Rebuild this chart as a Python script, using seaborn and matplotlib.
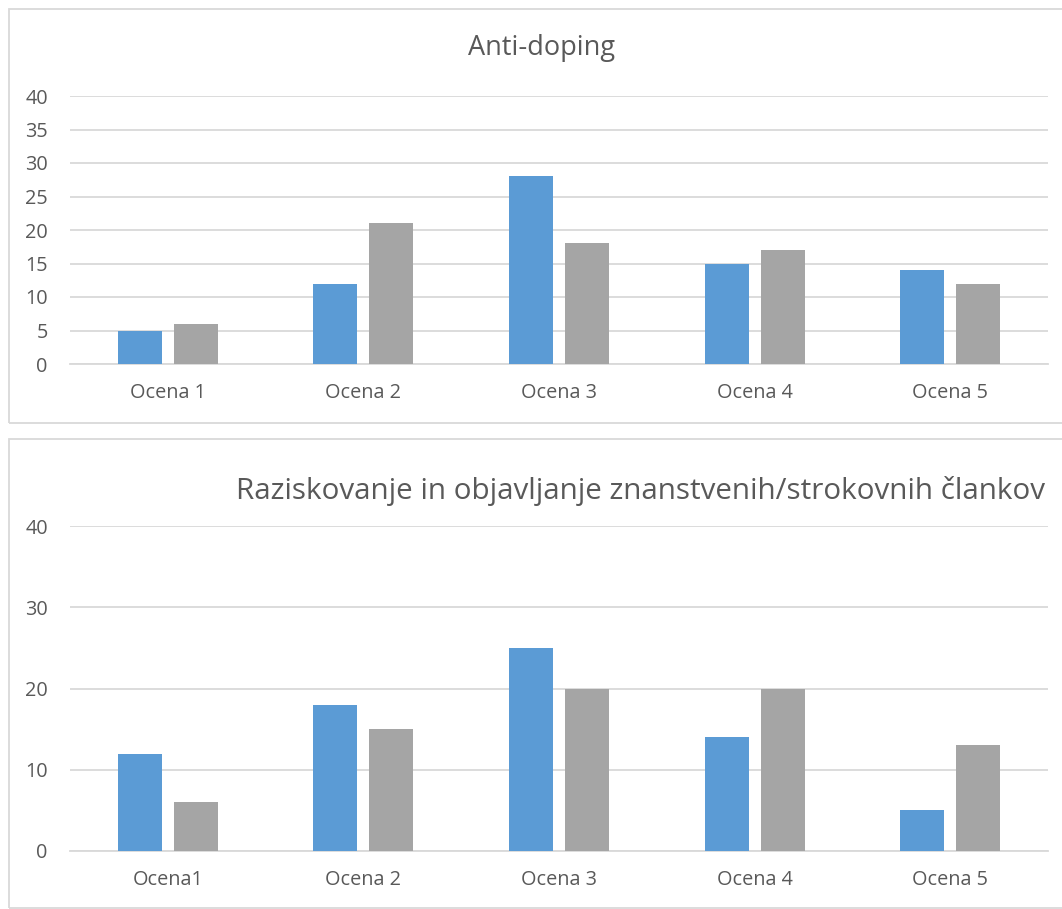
import matplotlib
matplotlib.use("Agg")
import matplotlib.pyplot as plt
from matplotlib.patches import Rectangle
import seaborn as sns
import pandas as pd

categories_top = ["Ocena 1", "Ocena 2", "Ocena 3", "Ocena 4", "Ocena 5"]
series_a_top = [5, 12, 28, 15, 14]
series_b_top = [6, 21, 18, 17, 12]
title_top = "Anti-doping"
yticks_top = [0, 5, 10, 15, 20, 25, 30, 35, 40]

categories_bottom = ["Ocena1", "Ocena 2", "Ocena 3", "Ocena 4", "Ocena 5"]
series_a_bottom = [12, 18, 25, 14, 5]
series_b_bottom = [6, 15, 20, 20, 13]
title_bottom = "Raziskovanje in objavljanje znanstvenih/strokovnih člankov"
yticks_bottom = [0, 10, 20, 30, 40]

series_names = ["A", "B"]
colors = ["#5B9BD5", "#A5A5A5"]
text_color = "#595959"
grid_color = "#D9D9D9"

sns.set_theme(style="white")
plt.rcParams["font.family"] = ["Open Sans", "DejaVu Sans"]

W, H = 1062, 909
fig = plt.figure(figsize=(W / 100, H / 100), dpi=100)


def px_axes(x0, y0, x1, y1):
    # pixel box (top-left origin) -> figure fraction axes
    return fig.add_axes([x0 / W, 1 - y1 / H, (x1 - x0) / W, (y1 - y0) / H])


def panel(x0, y0, x1, y1):
    fig.patches.append(Rectangle((x0 / W, 1 - y1 / H), (x1 - x0) / W, (y1 - y0) / H,
                                 transform=fig.transFigure, fill=False,
                                 edgecolor=grid_color, linewidth=1.3, zorder=0))


def draw(ax, cats, a, b, yticks):
    df = pd.DataFrame({
        "cat": cats * 2,
        "val": a + b,
        "series": [series_names[0]] * len(cats) + [series_names[1]] * len(cats),
    })
    sns.barplot(data=df, x="cat", y="val", hue="series", palette=colors,
                width=0.572, gap=0.214, ax=ax, legend=False, saturation=1,
                linewidth=0, zorder=3)
    ax.set_xlim(-0.5, len(cats) - 0.5)
    ax.set_ylim(0, 40)
    ax.set_yticks(yticks)
    ax.yaxis.grid(True, color=grid_color, linewidth=1.3, zorder=0)
    ax.set_axisbelow(True)
    for s in ["top", "right", "left"]:
        ax.spines[s].set_visible(False)
    ax.spines["bottom"].set_color(grid_color)
    ax.spines["bottom"].set_linewidth(1.3)
    ax.tick_params(axis="y", length=0, pad=16, labelsize=14.3, labelcolor=text_color)
    ax.tick_params(axis="x", length=0, pad=14, labelsize=14.3, labelcolor=text_color)
    ax.set_xlabel("")
    ax.set_ylabel("")
    ax.set_facecolor("none")


panel(9, 9, 1080, 423)
panel(9, 439, 1080, 908)

ax1 = px_axes(70, 96, 1048, 364)
draw(ax1, categories_top, series_a_top, series_b_top, yticks_top)

ax2 = px_axes(70, 526, 1048, 851)
draw(ax2, categories_bottom, series_a_bottom, series_b_bottom, yticks_bottom)

fig.text(541 / W, 1 - 48 / H, title_top, ha="center", va="center",
         fontsize=19.5, color=text_color)
fig.text(641 / W, 1 - 491 / H, title_bottom, ha="center", va="center",
         fontsize=21.3, color=text_color)

fig.savefig("out.png", dpi=100, facecolor="white")
